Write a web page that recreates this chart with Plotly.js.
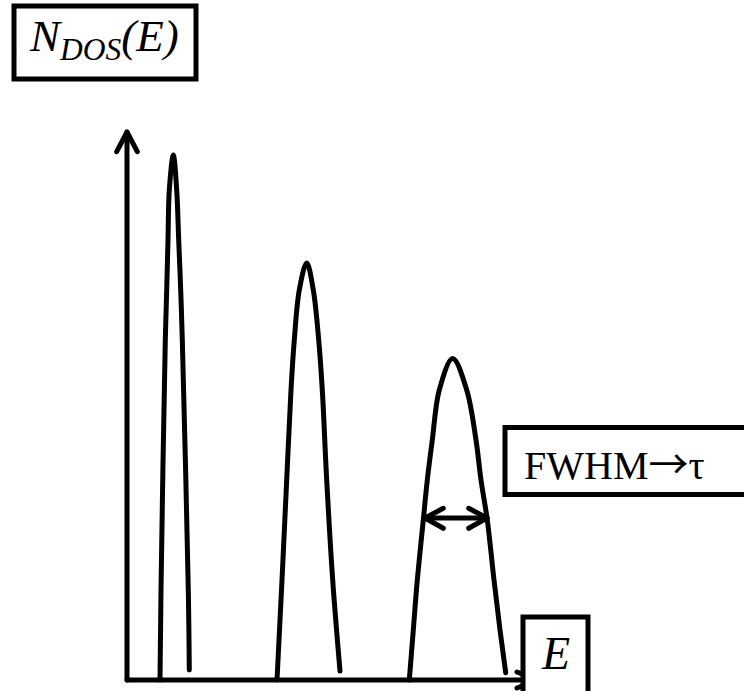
<!DOCTYPE html>
<html>
<head>
<meta charset="utf-8">
<script src="https://cdn.plot.ly/plotly-3.0.1.min.js"></script>
<style>
  html, body { margin: 0; padding: 0; background: #fff; }
  #chart { width: 744px; height: 691px; }
  path.js-line { stroke-linejoin: round !important; stroke-linecap: round !important; }
</style>
</head>
<body>
<div id="chart"></div>
<script>
// Schematic density of states: three broadened levels (arbitrary units, E to the right, N_DOS up)
var peak1E = [33, 34, 38.3, 39.7, 41, 42.3, 46.3, 49.7, 51.7, 53.7, 55.3, 61.3, 62.3];
var peak1N = [0, 90, 340, 390, 440, 490, 525, 490, 440, 390, 340, 90, 10];

var peak2E = [150, 155, 159.7, 164, 167.3, 172.3, 179.7, 186.3, 191.7, 195.3, 199.7, 205.7, 213];
var peak2N = [0, 100, 200, 290, 340, 390, 417, 390, 340, 290, 200, 100, 9];

var peak3E = [282.3, 286.3, 290.3, 296.3, 300.3, 305.3, 312.3, 325.7, 339.7, 349, 354, 360.3, 367, 373, 378.7];
var peak3N = [0, 50, 100, 160, 200, 240, 290, 321.5, 290, 240, 200, 160, 100, 50, 7.3];

// Axes (arrows)
var yAxisE = [0, 0];
var yAxisN = [0, 548];
var yHeadE = [-10.3, 0, 10.3];
var yHeadN = [528.3, 548, 528.3];

var xAxisE = [0, 410];
var xAxisN = [0, 0];
var xHeadE = [390, 410, 390];
var xHeadN = [8, 0, -8];

// FWHM double arrow of the third peak
var fwhmE = [298, 360];
var fwhmN = [162, 162];
var fwhmLeftHeadE = [316.3, 298, 316.3];
var fwhmLeftHeadN = [171.7, 162, 151.7];
var fwhmRightHeadE = [341.7, 360, 341.7];
var fwhmRightHeadN = [171.7, 162, 151.7];

// Labels
var labelYAxis = '<i>N</i><sub><i>DOS</i></sub><i>(E)</i>';
var labelFWHM = 'FWHM<span style="font-family:\'Noto Sans CJK JP\'">\u2192</span>\u03C4';
var labelXAxis = '<i>E</i>';

var lineStyle = { color: '#000', width: 5 };
function tr(x, y, spline) {
  return {
    x: x, y: y, type: 'scatter', mode: 'lines',
    line: Object.assign({}, lineStyle, spline ? { shape: 'spline', smoothing: 1 } : {}),
    hoverinfo: 'skip', showlegend: false
  };
}

var data = [
  tr(peak1E, peak1N, true),
  tr(peak2E, peak2N, true),
  tr(peak3E, peak3N, true),
  tr(yAxisE, yAxisN), tr(yHeadE, yHeadN),
  tr(xAxisE, xAxisN), tr(xHeadE, xHeadN),
  tr(fwhmE, fwhmN), tr(fwhmLeftHeadE, fwhmLeftHeadN), tr(fwhmRightHeadE, fwhmRightHeadN)
];

var serif = 'Liberation Serif, Times New Roman, serif';
var boxLine = { color: '#000', width: 5 };
var layout = {
  width: 744, height: 691,
  margin: { l: 0, r: 0, t: 0, b: 0 },
  paper_bgcolor: '#fff', plot_bgcolor: '#fff',
  xaxis: { range: [-127, 617], visible: false, fixedrange: true },
  yaxis: { range: [-11, 680], visible: false, fixedrange: true },
  showlegend: false,
  shapes: [
    { type: 'rect', xref: 'x', yref: 'y', x0: -113, x1: 69, y0: 601, y1: 674, line: boxLine, fillcolor: '#fff', layer: 'above' },
    { type: 'rect', xref: 'x', yref: 'y', x0: 378, x1: 630, y0: 185.5, y1: 252.5, line: boxLine, fillcolor: '#fff', layer: 'above' },
    { type: 'rect', xref: 'x', yref: 'y', x0: 396, x1: 461, y0: -20, y1: 63, line: boxLine, fillcolor: '#fff', layer: 'above' }
  ],
  annotations: [
    { xref: 'x', yref: 'y', x: -100, y: 641, xanchor: 'left', yanchor: 'middle', text: labelYAxis, showarrow: false,
      font: { family: serif, size: 45, color: '#000' } },
    { xref: 'x', yref: 'y', x: 395, y: 218, xanchor: 'left', yanchor: 'middle', text: labelFWHM, showarrow: false,
      font: { family: serif, size: 40, color: '#000' } },
    { xref: 'x', yref: 'y', x: 428, y: 27, xanchor: 'center', yanchor: 'middle', text: labelXAxis, showarrow: false,
      font: { family: serif, size: 46, color: '#000' } }
  ]
};

Plotly.newPlot('chart', data, layout, { staticPlot: true, displayModeBar: false });
</script>
</body>
</html>
